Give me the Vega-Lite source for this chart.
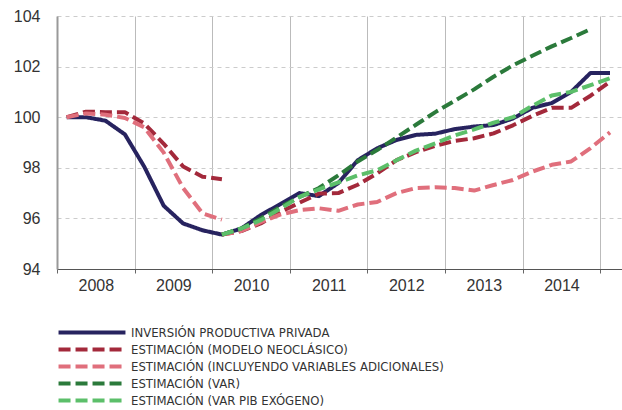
{
  "$schema": "https://vega.github.io/schema/vega-lite/v6.json",
  "width": 565,
  "height": 253,
  "autosize": {"type": "none"},
  "padding": {"left": 57, "top": 16, "right": 0, "bottom": 141},
  "background": "white",
  "config": {
    "view": {"stroke": null},
    "axis": {"labelFont": "Liberation Sans", "labelFontSize": 16, "labelColor": "#333333"}
  },
  "data": {
    "values": [
      {"s": "INVERSIÓN PRODUCTIVA PRIVADA", "g": "a", "t": 2008.125, "v": 100.0},
      {"s": "INVERSIÓN PRODUCTIVA PRIVADA", "g": "a", "t": 2008.375, "v": 100.0},
      {"s": "INVERSIÓN PRODUCTIVA PRIVADA", "g": "a", "t": 2008.625, "v": 99.86},
      {"s": "INVERSIÓN PRODUCTIVA PRIVADA", "g": "a", "t": 2008.875, "v": 99.32},
      {"s": "INVERSIÓN PRODUCTIVA PRIVADA", "g": "a", "t": 2009.125, "v": 98.04},
      {"s": "INVERSIÓN PRODUCTIVA PRIVADA", "g": "a", "t": 2009.375, "v": 96.5},
      {"s": "INVERSIÓN PRODUCTIVA PRIVADA", "g": "a", "t": 2009.625, "v": 95.8},
      {"s": "INVERSIÓN PRODUCTIVA PRIVADA", "g": "a", "t": 2009.875, "v": 95.53},
      {"s": "INVERSIÓN PRODUCTIVA PRIVADA", "g": "a", "t": 2010.125, "v": 95.36},
      {"s": "INVERSIÓN PRODUCTIVA PRIVADA", "g": "a", "t": 2010.375, "v": 95.6},
      {"s": "INVERSIÓN PRODUCTIVA PRIVADA", "g": "a", "t": 2010.625, "v": 96.13},
      {"s": "INVERSIÓN PRODUCTIVA PRIVADA", "g": "a", "t": 2010.875, "v": 96.56},
      {"s": "INVERSIÓN PRODUCTIVA PRIVADA", "g": "a", "t": 2011.125, "v": 97.0},
      {"s": "INVERSIÓN PRODUCTIVA PRIVADA", "g": "a", "t": 2011.375, "v": 96.88},
      {"s": "INVERSIÓN PRODUCTIVA PRIVADA", "g": "a", "t": 2011.625, "v": 97.4},
      {"s": "INVERSIÓN PRODUCTIVA PRIVADA", "g": "a", "t": 2011.875, "v": 98.3},
      {"s": "INVERSIÓN PRODUCTIVA PRIVADA", "g": "a", "t": 2012.125, "v": 98.77},
      {"s": "INVERSIÓN PRODUCTIVA PRIVADA", "g": "a", "t": 2012.375, "v": 99.1},
      {"s": "INVERSIÓN PRODUCTIVA PRIVADA", "g": "a", "t": 2012.625, "v": 99.3},
      {"s": "INVERSIÓN PRODUCTIVA PRIVADA", "g": "a", "t": 2012.875, "v": 99.35},
      {"s": "INVERSIÓN PRODUCTIVA PRIVADA", "g": "a", "t": 2013.125, "v": 99.53},
      {"s": "INVERSIÓN PRODUCTIVA PRIVADA", "g": "a", "t": 2013.375, "v": 99.63},
      {"s": "INVERSIÓN PRODUCTIVA PRIVADA", "g": "a", "t": 2013.625, "v": 99.69},
      {"s": "INVERSIÓN PRODUCTIVA PRIVADA", "g": "a", "t": 2013.875, "v": 99.95},
      {"s": "INVERSIÓN PRODUCTIVA PRIVADA", "g": "a", "t": 2014.125, "v": 100.37},
      {"s": "INVERSIÓN PRODUCTIVA PRIVADA", "g": "a", "t": 2014.375, "v": 100.56},
      {"s": "INVERSIÓN PRODUCTIVA PRIVADA", "g": "a", "t": 2014.625, "v": 101.0},
      {"s": "INVERSIÓN PRODUCTIVA PRIVADA", "g": "a", "t": 2014.875, "v": 101.75},
      {"s": "INVERSIÓN PRODUCTIVA PRIVADA", "g": "a", "t": 2015.125, "v": 101.75},

      {"s": "ESTIMACIÓN (MODELO NEOCLÁSICO)", "g": "b1", "t": 2008.125, "v": 100.0},
      {"s": "ESTIMACIÓN (MODELO NEOCLÁSICO)", "g": "b1", "t": 2008.375, "v": 100.22},
      {"s": "ESTIMACIÓN (MODELO NEOCLÁSICO)", "g": "b1", "t": 2008.625, "v": 100.2},
      {"s": "ESTIMACIÓN (MODELO NEOCLÁSICO)", "g": "b1", "t": 2008.875, "v": 100.2},
      {"s": "ESTIMACIÓN (MODELO NEOCLÁSICO)", "g": "b1", "t": 2009.125, "v": 99.75},
      {"s": "ESTIMACIÓN (MODELO NEOCLÁSICO)", "g": "b1", "t": 2009.375, "v": 98.95},
      {"s": "ESTIMACIÓN (MODELO NEOCLÁSICO)", "g": "b1", "t": 2009.625, "v": 98.05},
      {"s": "ESTIMACIÓN (MODELO NEOCLÁSICO)", "g": "b1", "t": 2009.875, "v": 97.65},
      {"s": "ESTIMACIÓN (MODELO NEOCLÁSICO)", "g": "b1", "t": 2010.125, "v": 97.55},
      {"s": "ESTIMACIÓN (MODELO NEOCLÁSICO)", "g": "b2", "t": 2010.125, "v": 95.36},
      {"s": "ESTIMACIÓN (MODELO NEOCLÁSICO)", "g": "b2", "t": 2010.375, "v": 95.5},
      {"s": "ESTIMACIÓN (MODELO NEOCLÁSICO)", "g": "b2", "t": 2010.625, "v": 95.8},
      {"s": "ESTIMACIÓN (MODELO NEOCLÁSICO)", "g": "b2", "t": 2010.875, "v": 96.25},
      {"s": "ESTIMACIÓN (MODELO NEOCLÁSICO)", "g": "b2", "t": 2011.125, "v": 96.62},
      {"s": "ESTIMACIÓN (MODELO NEOCLÁSICO)", "g": "b2", "t": 2011.375, "v": 96.98},
      {"s": "ESTIMACIÓN (MODELO NEOCLÁSICO)", "g": "b2", "t": 2011.625, "v": 97.0},
      {"s": "ESTIMACIÓN (MODELO NEOCLÁSICO)", "g": "b2", "t": 2011.875, "v": 97.33},
      {"s": "ESTIMACIÓN (MODELO NEOCLÁSICO)", "g": "b2", "t": 2012.125, "v": 97.78},
      {"s": "ESTIMACIÓN (MODELO NEOCLÁSICO)", "g": "b2", "t": 2012.375, "v": 98.3},
      {"s": "ESTIMACIÓN (MODELO NEOCLÁSICO)", "g": "b2", "t": 2012.625, "v": 98.62},
      {"s": "ESTIMACIÓN (MODELO NEOCLÁSICO)", "g": "b2", "t": 2012.875, "v": 98.87},
      {"s": "ESTIMACIÓN (MODELO NEOCLÁSICO)", "g": "b2", "t": 2013.125, "v": 99.06},
      {"s": "ESTIMACIÓN (MODELO NEOCLÁSICO)", "g": "b2", "t": 2013.375, "v": 99.17},
      {"s": "ESTIMACIÓN (MODELO NEOCLÁSICO)", "g": "b2", "t": 2013.625, "v": 99.36},
      {"s": "ESTIMACIÓN (MODELO NEOCLÁSICO)", "g": "b2", "t": 2013.875, "v": 99.68},
      {"s": "ESTIMACIÓN (MODELO NEOCLÁSICO)", "g": "b2", "t": 2014.125, "v": 100.05},
      {"s": "ESTIMACIÓN (MODELO NEOCLÁSICO)", "g": "b2", "t": 2014.375, "v": 100.37},
      {"s": "ESTIMACIÓN (MODELO NEOCLÁSICO)", "g": "b2", "t": 2014.625, "v": 100.37},
      {"s": "ESTIMACIÓN (MODELO NEOCLÁSICO)", "g": "b2", "t": 2014.875, "v": 100.85},
      {"s": "ESTIMACIÓN (MODELO NEOCLÁSICO)", "g": "b2", "t": 2015.125, "v": 101.4},

      {"s": "ESTIMACIÓN (INCLUYENDO VARIABLES ADICIONALES)", "g": "c1", "t": 2008.125, "v": 100.0},
      {"s": "ESTIMACIÓN (INCLUYENDO VARIABLES ADICIONALES)", "g": "c1", "t": 2008.375, "v": 100.15},
      {"s": "ESTIMACIÓN (INCLUYENDO VARIABLES ADICIONALES)", "g": "c1", "t": 2008.625, "v": 100.1},
      {"s": "ESTIMACIÓN (INCLUYENDO VARIABLES ADICIONALES)", "g": "c1", "t": 2008.875, "v": 99.97},
      {"s": "ESTIMACIÓN (INCLUYENDO VARIABLES ADICIONALES)", "g": "c1", "t": 2009.125, "v": 99.6},
      {"s": "ESTIMACIÓN (INCLUYENDO VARIABLES ADICIONALES)", "g": "c1", "t": 2009.375, "v": 98.6},
      {"s": "ESTIMACIÓN (INCLUYENDO VARIABLES ADICIONALES)", "g": "c1", "t": 2009.625, "v": 97.2},
      {"s": "ESTIMACIÓN (INCLUYENDO VARIABLES ADICIONALES)", "g": "c1", "t": 2009.875, "v": 96.2},
      {"s": "ESTIMACIÓN (INCLUYENDO VARIABLES ADICIONALES)", "g": "c1", "t": 2010.125, "v": 95.95},
      {"s": "ESTIMACIÓN (INCLUYENDO VARIABLES ADICIONALES)", "g": "c2", "t": 2010.125, "v": 95.36},
      {"s": "ESTIMACIÓN (INCLUYENDO VARIABLES ADICIONALES)", "g": "c2", "t": 2010.375, "v": 95.5},
      {"s": "ESTIMACIÓN (INCLUYENDO VARIABLES ADICIONALES)", "g": "c2", "t": 2010.625, "v": 95.85},
      {"s": "ESTIMACIÓN (INCLUYENDO VARIABLES ADICIONALES)", "g": "c2", "t": 2010.875, "v": 96.15},
      {"s": "ESTIMACIÓN (INCLUYENDO VARIABLES ADICIONALES)", "g": "c2", "t": 2011.125, "v": 96.33},
      {"s": "ESTIMACIÓN (INCLUYENDO VARIABLES ADICIONALES)", "g": "c2", "t": 2011.375, "v": 96.4},
      {"s": "ESTIMACIÓN (INCLUYENDO VARIABLES ADICIONALES)", "g": "c2", "t": 2011.625, "v": 96.3},
      {"s": "ESTIMACIÓN (INCLUYENDO VARIABLES ADICIONALES)", "g": "c2", "t": 2011.875, "v": 96.55},
      {"s": "ESTIMACIÓN (INCLUYENDO VARIABLES ADICIONALES)", "g": "c2", "t": 2012.125, "v": 96.65},
      {"s": "ESTIMACIÓN (INCLUYENDO VARIABLES ADICIONALES)", "g": "c2", "t": 2012.375, "v": 97.0},
      {"s": "ESTIMACIÓN (INCLUYENDO VARIABLES ADICIONALES)", "g": "c2", "t": 2012.625, "v": 97.2},
      {"s": "ESTIMACIÓN (INCLUYENDO VARIABLES ADICIONALES)", "g": "c2", "t": 2012.875, "v": 97.23},
      {"s": "ESTIMACIÓN (INCLUYENDO VARIABLES ADICIONALES)", "g": "c2", "t": 2013.125, "v": 97.2},
      {"s": "ESTIMACIÓN (INCLUYENDO VARIABLES ADICIONALES)", "g": "c2", "t": 2013.375, "v": 97.1},
      {"s": "ESTIMACIÓN (INCLUYENDO VARIABLES ADICIONALES)", "g": "c2", "t": 2013.625, "v": 97.32},
      {"s": "ESTIMACIÓN (INCLUYENDO VARIABLES ADICIONALES)", "g": "c2", "t": 2013.875, "v": 97.52},
      {"s": "ESTIMACIÓN (INCLUYENDO VARIABLES ADICIONALES)", "g": "c2", "t": 2014.125, "v": 97.85},
      {"s": "ESTIMACIÓN (INCLUYENDO VARIABLES ADICIONALES)", "g": "c2", "t": 2014.375, "v": 98.12},
      {"s": "ESTIMACIÓN (INCLUYENDO VARIABLES ADICIONALES)", "g": "c2", "t": 2014.625, "v": 98.25},
      {"s": "ESTIMACIÓN (INCLUYENDO VARIABLES ADICIONALES)", "g": "c2", "t": 2014.875, "v": 98.78},
      {"s": "ESTIMACIÓN (INCLUYENDO VARIABLES ADICIONALES)", "g": "c2", "t": 2015.125, "v": 99.4},

      {"s": "ESTIMACIÓN (VAR)", "g": "d", "t": 2010.125, "v": 95.36},
      {"s": "ESTIMACIÓN (VAR)", "g": "d", "t": 2010.375, "v": 95.6},
      {"s": "ESTIMACIÓN (VAR)", "g": "d", "t": 2010.625, "v": 96.0},
      {"s": "ESTIMACIÓN (VAR)", "g": "d", "t": 2010.875, "v": 96.45},
      {"s": "ESTIMACIÓN (VAR)", "g": "d", "t": 2011.125, "v": 96.85},
      {"s": "ESTIMACIÓN (VAR)", "g": "d", "t": 2011.375, "v": 97.2},
      {"s": "ESTIMACIÓN (VAR)", "g": "d", "t": 2011.625, "v": 97.7},
      {"s": "ESTIMACIÓN (VAR)", "g": "d", "t": 2011.875, "v": 98.25},
      {"s": "ESTIMACIÓN (VAR)", "g": "d", "t": 2012.125, "v": 98.7},
      {"s": "ESTIMACIÓN (VAR)", "g": "d", "t": 2012.375, "v": 99.2},
      {"s": "ESTIMACIÓN (VAR)", "g": "d", "t": 2012.625, "v": 99.7},
      {"s": "ESTIMACIÓN (VAR)", "g": "d", "t": 2012.875, "v": 100.2},
      {"s": "ESTIMACIÓN (VAR)", "g": "d", "t": 2013.125, "v": 100.65},
      {"s": "ESTIMACIÓN (VAR)", "g": "d", "t": 2013.375, "v": 101.1},
      {"s": "ESTIMACIÓN (VAR)", "g": "d", "t": 2013.625, "v": 101.6},
      {"s": "ESTIMACIÓN (VAR)", "g": "d", "t": 2013.875, "v": 102.05},
      {"s": "ESTIMACIÓN (VAR)", "g": "d", "t": 2014.125, "v": 102.43},
      {"s": "ESTIMACIÓN (VAR)", "g": "d", "t": 2014.375, "v": 102.8},
      {"s": "ESTIMACIÓN (VAR)", "g": "d", "t": 2014.625, "v": 103.13},
      {"s": "ESTIMACIÓN (VAR)", "g": "d", "t": 2014.875, "v": 103.48},

      {"s": "ESTIMACIÓN (VAR PIB EXÓGENO)", "g": "e", "t": 2010.125, "v": 95.36},
      {"s": "ESTIMACIÓN (VAR PIB EXÓGENO)", "g": "e", "t": 2010.375, "v": 95.6},
      {"s": "ESTIMACIÓN (VAR PIB EXÓGENO)", "g": "e", "t": 2010.625, "v": 95.93},
      {"s": "ESTIMACIÓN (VAR PIB EXÓGENO)", "g": "e", "t": 2010.875, "v": 96.38},
      {"s": "ESTIMACIÓN (VAR PIB EXÓGENO)", "g": "e", "t": 2011.125, "v": 96.85},
      {"s": "ESTIMACIÓN (VAR PIB EXÓGENO)", "g": "e", "t": 2011.375, "v": 97.15},
      {"s": "ESTIMACIÓN (VAR PIB EXÓGENO)", "g": "e", "t": 2011.625, "v": 97.42},
      {"s": "ESTIMACIÓN (VAR PIB EXÓGENO)", "g": "e", "t": 2011.875, "v": 97.7},
      {"s": "ESTIMACIÓN (VAR PIB EXÓGENO)", "g": "e", "t": 2012.125, "v": 97.9},
      {"s": "ESTIMACIÓN (VAR PIB EXÓGENO)", "g": "e", "t": 2012.375, "v": 98.3},
      {"s": "ESTIMACIÓN (VAR PIB EXÓGENO)", "g": "e", "t": 2012.625, "v": 98.68},
      {"s": "ESTIMACIÓN (VAR PIB EXÓGENO)", "g": "e", "t": 2012.875, "v": 98.97},
      {"s": "ESTIMACIÓN (VAR PIB EXÓGENO)", "g": "e", "t": 2013.125, "v": 99.28},
      {"s": "ESTIMACIÓN (VAR PIB EXÓGENO)", "g": "e", "t": 2013.375, "v": 99.52},
      {"s": "ESTIMACIÓN (VAR PIB EXÓGENO)", "g": "e", "t": 2013.625, "v": 99.78},
      {"s": "ESTIMACIÓN (VAR PIB EXÓGENO)", "g": "e", "t": 2013.875, "v": 100.0},
      {"s": "ESTIMACIÓN (VAR PIB EXÓGENO)", "g": "e", "t": 2014.125, "v": 100.45},
      {"s": "ESTIMACIÓN (VAR PIB EXÓGENO)", "g": "e", "t": 2014.375, "v": 100.86},
      {"s": "ESTIMACIÓN (VAR PIB EXÓGENO)", "g": "e", "t": 2014.625, "v": 101.0},
      {"s": "ESTIMACIÓN (VAR PIB EXÓGENO)", "g": "e", "t": 2014.875, "v": 101.27},
      {"s": "ESTIMACIÓN (VAR PIB EXÓGENO)", "g": "e", "t": 2015.125, "v": 101.54}
    ]
  },
  "mark": {"type": "line", "strokeWidth": 4, "strokeCap": "butt", "strokeJoin": "round"},
  "encoding": {
    "x": {
      "field": "t", "type": "quantitative",
      "scale": {"domain": [2008, 2015.28], "nice": false, "zero": false},
      "axis": {
        "title": null,
        "values": [2008, 2009, 2010, 2011, 2012, 2013, 2014, 2015],
        "labelExpr": "datum.value < 2015 ? format(datum.value, 'd') : ''",
        "labelOffset": 38.8,
        "labelBound": false,
        "labelOverlap": false,
        "labelFlush": false,
        "labelPadding": 4,
        "tickSize": 4,
        "tickColor": "#666666",
        "domainColor": "#555555",
        "domainWidth": 1.2,
        "grid": true,
        "gridColor": "#bbbbbb",
        "gridWidth": 1
      }
    },
    "y": {
      "field": "v", "type": "quantitative",
      "scale": {"domain": [94, 104], "nice": false, "zero": false},
      "axis": {
        "title": null,
        "values": [94, 96, 98, 100, 102, 104],
        "tickSize": 0,
        "labelPadding": 17,
        "domainColor": "#999999",
        "domainWidth": 2,
        "grid": true,
        "gridColor": "#cccccc",
        "gridDash": [4, 4],
        "gridWidth": 1
      }
    },
    "detail": {"field": "g"},
    "color": {
      "field": "s", "type": "nominal",
      "scale": {
        "domain": ["INVERSIÓN PRODUCTIVA PRIVADA", "ESTIMACIÓN (MODELO NEOCLÁSICO)", "ESTIMACIÓN (INCLUYENDO VARIABLES ADICIONALES)", "ESTIMACIÓN (VAR)", "ESTIMACIÓN (VAR PIB EXÓGENO)"],
        "range": ["#27235f", "#a3293b", "#e06f7c", "#2b7a3b", "#5cbf6a"]
      },
      "legend": {
        "title": null,
        "orient": "none",
        "legendX": 28.5,
        "legendY": 310,
        "direction": "vertical",
        "symbolType": "M-8,0H8",
        "symbolStrokeWidth": 4,
        "symbolSize": 70,
        "labelFont": "'DejaVu Sans Condensed', 'Liberation Sans', sans-serif",
        "labelFontSize": 13,
        "labelColor": "#333333",
        "labelOffset": 32.5,
        "rowPadding": 0,
        "labelLimit": 500
      }
    },
    "strokeDash": {
      "field": "s", "type": "nominal",
      "scale": {
        "domain": ["INVERSIÓN PRODUCTIVA PRIVADA", "ESTIMACIÓN (MODELO NEOCLÁSICO)", "ESTIMACIÓN (INCLUYENDO VARIABLES ADICIONALES)", "ESTIMACIÓN (VAR)", "ESTIMACIÓN (VAR PIB EXÓGENO)"],
        "range": [[1, 0], [12, 5], [12, 5], [12, 5], [12, 5]]
      },
      "legend": null
    }
  }
}
